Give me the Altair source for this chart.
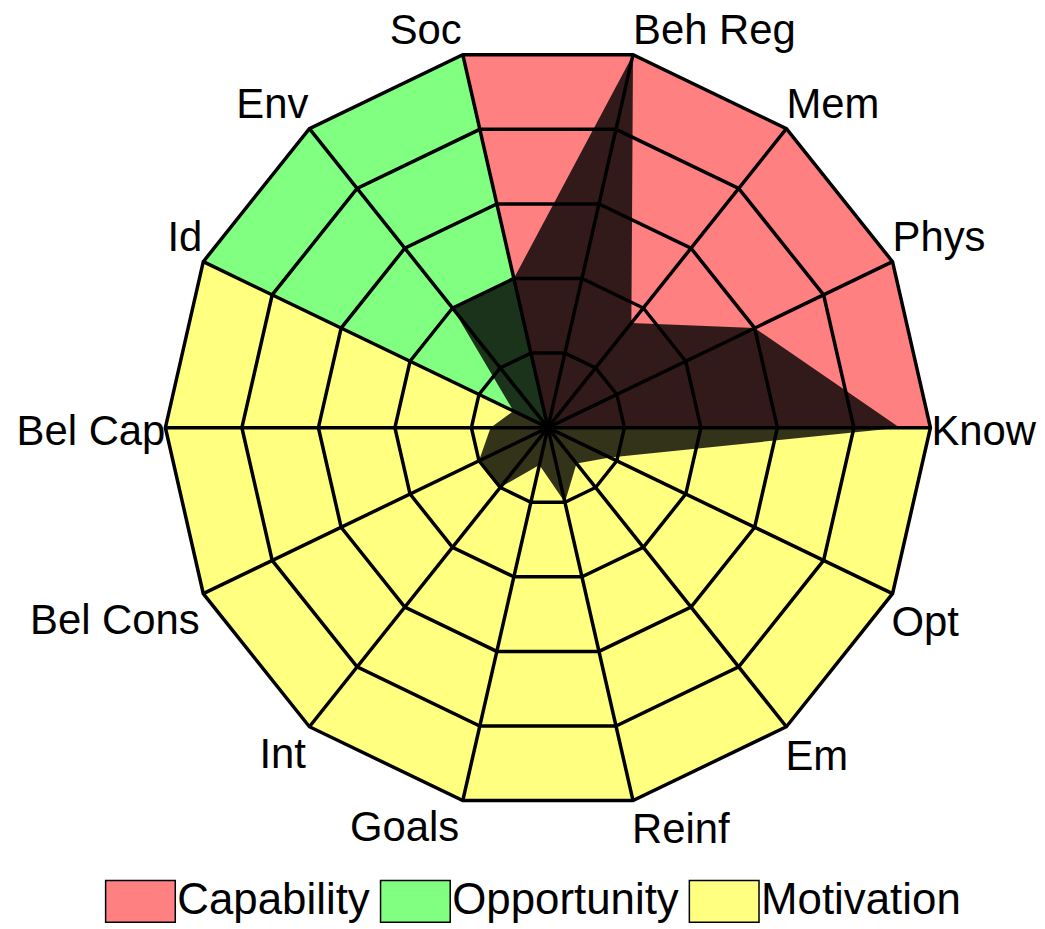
import math
import altair as alt
import pandas as pd

# ---------------- data ----------------
spoke_labels = ["Know", "Phys", "Mem", "Beh Reg", "Soc", "Env", "Id",
                "Bel Cap", "Bel Cons", "Int", "Goals", "Reinf", "Em", "Opt"]
scores = [4.6, 3.0, 1.75, 5.0, 2.0, 2.0, 0.5, 0.75, 1.0, 1.0, 0.5, 1.0, 0.6, 0.9]
domain_names = ["Capability", "Opportunity", "Motivation"]
domain_colors = ["#ff8080", "#80ff80", "#ffff80"]
domain_first_spoke = [0, 4, 6]
domain_last_spoke = [4, 6, 14]          # 14 wraps back to "Know"
ring_levels = [1, 2, 3, 4, 5]
scale_max = 5

n = len(spoke_labels)


def pos(k, r):
    a = 2 * math.pi * k / n
    return r * math.cos(a), r * math.sin(a)


# sectors (coloured background)
sector_rows = []
for name, a, b in zip(domain_names, domain_first_spoke, domain_last_spoke):
    sector_rows.append(dict(domain=name, i=0, x=0.0, y=0.0))
    for j, k in enumerate(range(a, b + 1)):
        x, y = pos(k, scale_max)
        sector_rows.append(dict(domain=name, i=j + 1, x=x, y=y))
sector_df = pd.DataFrame(sector_rows)

# grid rings
ring_rows = []
for r in ring_levels:
    for k in range(n):
        x, y = pos(k, r)
        ring_rows.append(dict(ring=r, i=k, x=x, y=y))
ring_df = pd.DataFrame(ring_rows)

# spokes
spoke_rows = []
for k, lab in enumerate(spoke_labels):
    x, y = pos(k, scale_max)
    spoke_rows.append(dict(label=lab, x0=0.0, y0=0.0, x=x, y=y))
spoke_df = pd.DataFrame(spoke_rows)

# score polygon
score_rows = []
for k, v in enumerate(scores):
    x, y = pos(k, v)
    score_rows.append(dict(i=k, x=x, y=y))
score_df = pd.DataFrame(score_rows)

# ---------------- layout ----------------
PX = 76.8                 # pixels per unit
W, H = 1030, 860
cx, cy = 542, 418.5       # centre inside the plot area
xs = alt.Scale(domain=[-cx / PX, (W - cx) / PX], nice=False, zero=False)
ys = alt.Scale(domain=[-(H - cy) / PX, cy / PX], nice=False, zero=False)
X = lambda f: alt.X(f, type="quantitative", scale=xs, axis=None)
Y = lambda f: alt.Y(f, type="quantitative", scale=ys, axis=None)

FONT = "Liberation Sans"
LINE_W = 3.5

legend = alt.Legend(
    orient="none", legendX=97, legendY=872, direction="horizontal", title=None,
    symbolType="M-1,-1H2.33V1H-1Z", symbolSize=1764,
    symbolStrokeColor="black", symbolStrokeWidth=1.5, symbolOpacity=1,
    labelFont=FONT, labelFontSize=44, labelColor="black", labelLimit=400,
    labelOffset=29, columnPadding=7, padding=0,
)

sectors = alt.Chart(sector_df).mark_line(
    interpolate="linear-closed", filled=True, stroke="black",
    strokeWidth=1.5, fillOpacity=1,
).encode(
    x=X("x"), y=Y("y"),
    color=alt.Color("domain:N", scale=alt.Scale(domain=domain_names, range=domain_colors),
                    legend=legend),
    order=alt.Order("i:Q"),
)

score_poly = alt.Chart(score_df).mark_line(
    interpolate="linear-closed", fill="black", fillOpacity=0.8,
    stroke="black", strokeOpacity=0, strokeWidth=0,
).encode(x=X("x"), y=Y("y"), order=alt.Order("i:Q"))

rings = alt.Chart(ring_df).mark_line(
    interpolate="linear-closed", stroke="black", strokeWidth=LINE_W,
    strokeJoin="miter",
).encode(x=X("x"), y=Y("y"), detail="ring:N", order=alt.Order("i:Q"))

spokes = alt.Chart(spoke_df).mark_rule(color="black", strokeWidth=LINE_W).encode(
    x=X("x0"), y=Y("y0"), x2="x:Q", y2="y:Q"
)

# labels, grouped by alignment
label_layers = []
groups = {
    ("left", "top"): (0, -10.5),
    ("left", "mid"): (1, 17),
    ("left", "bot"): (-1, 43),
    ("right", "top"): (-1, -10.5),
    ("right", "mid"): (0, 17.5),
    ("right", "bot"): (-3.5, 41),
}
lab_rows = []
for k, lab in enumerate(spoke_labels):
    x, y = pos(k, scale_max)
    a = 2 * math.pi * k / n
    h = "left" if math.cos(a) > 0 else "right"
    s = math.sin(a)
    v = "top" if s > 0.1 else ("bot" if s < -0.1 else "mid")
    lab_rows.append(dict(label=lab, x=x, y=y, h=h, v=v))
lab_df = pd.DataFrame(lab_rows)

for (h, v), (dx, dy) in groups.items():
    sub = lab_df[(lab_df.h == h) & (lab_df.v == v)]
    label_layers.append(
        alt.Chart(sub).mark_text(
            align=h, baseline="alphabetic", dx=dx, dy=dy,
            font=FONT, fontSize=42, color="black",
        ).encode(x=X("x"), y=Y("y"), text="label:N")
    )

chart = alt.layer(sectors, score_poly, rings, spokes, *label_layers).properties(
    width=W, height=H, padding=0, background="white"
).configure_view(stroke=None)

chart.save("out.html", embed_options={"renderer": "svg", "actions": False})
